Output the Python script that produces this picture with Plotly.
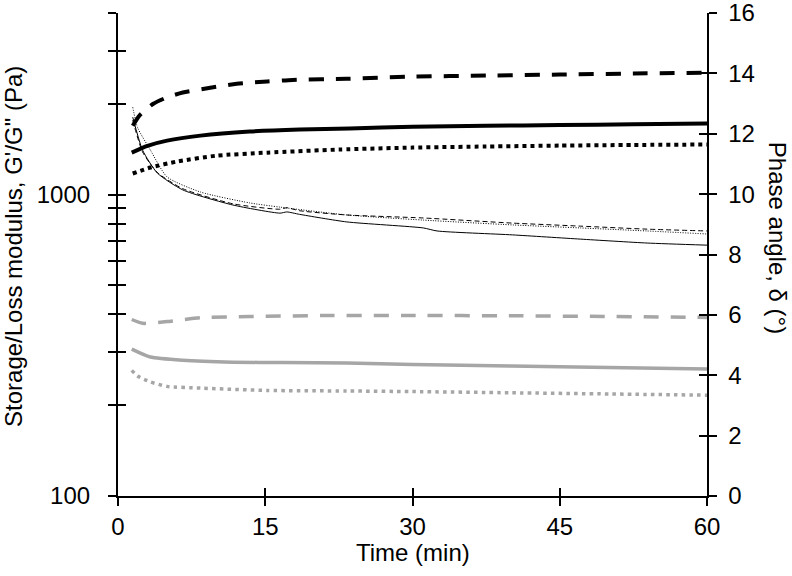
import numpy as np
import plotly.graph_objects as go

# ---- data ----
# Storage modulus G' (black thick), Pa
t_gp_dash = [1.5, 2.2, 3.6, 5, 6.6, 9.4, 12.1, 15.2, 17.8, 23.3, 30, 37.5, 45, 52.5, 60]
gp_dash = [1690, 1830, 2000, 2100, 2180, 2260, 2330, 2370, 2400, 2420, 2460, 2480, 2500, 2520, 2535]

t_gp_solid = [1.4, 3, 5, 8.4, 13.4, 18.5, 23.6, 30, 37.5, 45, 52.5, 60]
gp_solid = [1377, 1450, 1509, 1568, 1617, 1642, 1655, 1679, 1690, 1700, 1710, 1719]

t_gp_dot = [1.5, 3.3, 6.0, 10.1, 15.2, 22.6, 30, 37.5, 45, 52.5, 60]
gp_dot = [1174, 1229, 1286, 1346, 1377, 1410, 1431, 1443, 1453, 1460, 1465]

# Loss modulus G'' (grey thick), Pa
t_gpp_dash = [1.4, 2.5, 5, 8.4, 13.4, 21.9, 30, 40, 50, 60]
gpp_dash = [385, 374, 379, 390, 394, 397, 397, 396, 394, 391]

t_gpp_solid = [1.4, 3.3, 6.6, 11.7, 16.8, 23.3, 30, 40, 50, 60]
gpp_solid = [307, 289, 282, 278, 277, 276, 273, 270, 267, 264]

t_gpp_dot = [1.4, 2.0, 3.3, 5.0, 8.4, 15.2, 23.3, 30, 40, 50, 60]
gpp_dot = [261, 250, 239, 231, 228, 224, 223, 222, 220, 218, 216]

# Phase angle delta (thin black), degrees
t_d_dot = [1.5, 2.0, 3.3, 5.0, 8.4, 13.4, 16.5, 23.3, 31.1, 40.2, 47.1, 53.9, 60]
d_dot = [12.88, 12.2, 11.46, 10.57, 10.07, 9.71, 9.57, 9.31, 9.14, 8.98, 8.88, 8.78, 8.68]

t_d_solid = [1.5, 2.5, 4.0, 6.6, 11.7, 16.5, 17.2, 18.5, 23.3, 31.1, 32.5, 40.2, 47.1, 53.9, 60]
d_solid = [12.55, 11.46, 10.70, 10.14, 9.64, 9.37, 9.41, 9.33, 9.08, 8.88, 8.78, 8.65, 8.51, 8.38, 8.31]

t_d_dash = [1.5, 2.5, 4.0, 6.6, 11.7, 16.5, 17.2, 18.5, 23.3, 31.1, 40.2, 47.1, 53.9, 60]
d_dash = [12.45, 11.4, 10.72, 10.18, 9.68, 9.5, 9.55, 9.45, 9.31, 9.21, 9.04, 8.94, 8.84, 8.78]

x_ticks = [0, 15, 30, 45, 60]
y_ticks = [100, 200, 300, 400, 500, 600, 700, 800, 900, 1000, 2000, 3000, 4000]
y_ticktext = ["100", "", "", "", "", "", "", "", "", "1000", "", "", ""]
d_ticks = [0, 2, 4, 6, 8, 10, 12, 14, 16]

FONT = "Liberation Sans, Arial, sans-serif"
BLACK = "#000000"
GREY = "#A6A6A6"
NB = "\u00a0\u00a0"  # label gap padding (left)
NB_R = "\u00a0"      # label gap padding (right)

fig = go.Figure()

def add(x, y, color, width, dash, yaxis="y"):
    fig.add_trace(go.Scatter(x=x, y=y, mode="lines", yaxis=yaxis,
                             line=dict(color=color, width=width, dash=dash, shape="spline", smoothing=0.6),
                             showlegend=False, hoverinfo="skip"))

add(t_gp_dash, gp_dash, BLACK, 4, "15px,12px")
add(t_gp_solid, gp_solid, BLACK, 4, "solid")
add(t_gp_dot, gp_dot, BLACK, 4, "4px,4px")
add(t_gpp_dash, gpp_dash, GREY, 3.5, "15px,12px")
add(t_gpp_solid, gpp_solid, GREY, 3.5, "solid")
add(t_gpp_dot, gpp_dot, GREY, 3.5, "3.5px,4.2px")
add(t_d_dot, d_dot, BLACK, 1, "1px,1.5px", yaxis="y2")
add(t_d_solid, d_solid, BLACK, 1, "solid", yaxis="y2")
add(t_d_dash, d_dash, BLACK, 1, "5px,3px", yaxis="y2")

# dummy traces for inside-tick overlay axes (cross ticks)
fig.add_trace(go.Scatter(x=[None], y=[None], xaxis="x3", yaxis="y", showlegend=False, hoverinfo="skip"))
fig.add_trace(go.Scatter(x=[None], y=[None], xaxis="x", yaxis="y3", showlegend=False, hoverinfo="skip"))
fig.add_trace(go.Scatter(x=[None], y=[None], xaxis="x", yaxis="y4", showlegend=False, hoverinfo="skip"))

tickfont = dict(family=FONT, size=24, color=BLACK)
common = dict(showgrid=False, zeroline=False, tickcolor=BLACK, tickwidth=1.5, ticklen=8,
              automargin=False, ticklabeloverflow="allow")
LOGR = [2, np.log10(4000) + 1e-5]
DR = [0, 16.0005]

fig.update_layout(
    width=792, height=576,
    margin=dict(l=118, r=85, t=13, b=80, autoexpand=False),
    paper_bgcolor="white", plot_bgcolor="white",
    showlegend=False,
    xaxis=dict(range=[0, 60], tickvals=x_ticks, ticks="outside", showline=True,
               linecolor=BLACK, linewidth=1.5, tickfont=tickfont, **common),
    xaxis3=dict(range=[0, 60], tickvals=x_ticks, ticks="inside", showline=False,
                showticklabels=False, overlaying="x", side="bottom", anchor="y", **common),
    yaxis=dict(type="log", range=LOGR, tickvals=y_ticks,
               ticktext=[s + NB if s else s for s in y_ticktext],
               ticks="outside", showline=True, linecolor=BLACK, linewidth=1.5,
               tickfont=tickfont, **common),
    yaxis3=dict(type="log", range=LOGR, tickvals=y_ticks, ticks="inside",
                showline=False, showticklabels=False, overlaying="y", side="left", anchor="x", **common),
    yaxis2=dict(range=DR, tickvals=d_ticks, ticktext=[NB_R + str(v) for v in d_ticks],
                ticks="outside", showline=True,
                linecolor=BLACK, linewidth=1.5, overlaying="y", side="right", anchor="x",
                tickfont=tickfont, **common),
    yaxis4=dict(range=DR, tickvals=d_ticks, ticks="inside", showline=False,
                showticklabels=False, overlaying="y", side="right", anchor="x", **common),
    annotations=[
        dict(text="Time (min)", xref="paper", yref="paper", x=0.5, y=-0.116,
             showarrow=False, font=dict(family=FONT, size=24, color=BLACK),
             xanchor="center", yanchor="middle"),
        dict(text="Storage/Loss modulus, G'/G\" (Pa)", xref="paper", yref="paper",
             x=-0.1766, y=0.5176, textangle=-90, showarrow=False,
             font=dict(family=FONT, size=24, color=BLACK), xanchor="center", yanchor="middle"),
        dict(text="Phase angle, δ (°)", xref="paper", yref="paper",
             x=1.121, y=0.534, textangle=90, showarrow=False,
             font=dict(family=FONT, size=24, color=BLACK), xanchor="center", yanchor="middle"),
    ],
)

fig.write_html("out.html", config={"displayModeBar": False},
               post_script="document.body.style.margin='0px';")
